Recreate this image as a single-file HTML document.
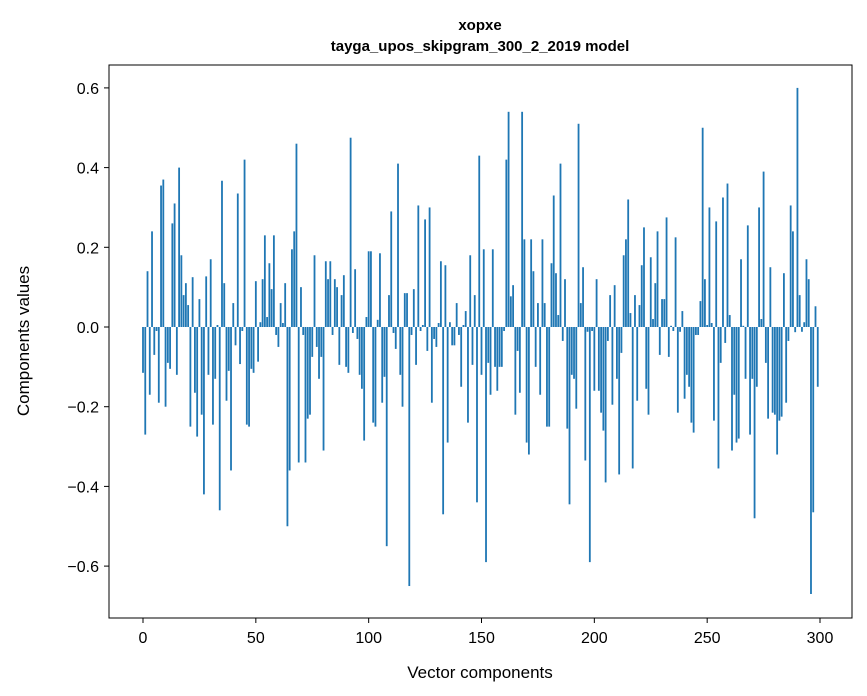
<!DOCTYPE html>
<html><head><meta charset="utf-8">
<style>
html,body{margin:0;padding:0;background:#fff;}
svg{display:block;font-family:"Liberation Sans","DejaVu Sans",sans-serif;}
</style></head>
<body>
<svg id="chart" width="867" height="696" viewBox="0 0 867 696">
  <rect x="0" y="0" width="867" height="696" fill="#fff"/>
  <text x="480" y="30" text-anchor="middle" font-size="15" font-weight="bold">xopxe</text>
  <text x="480" y="51" text-anchor="middle" font-size="15" font-weight="bold">tayga_upos_skipgram_300_2_2019 model</text>
  <g id="bars"></g>
  <g id="xticks"></g>
  <g id="yticks"></g>
  <rect x="109" y="65" width="743" height="553" fill="none" stroke="#000" stroke-width="1"/>
  <text x="480" y="678" text-anchor="middle" font-size="17">Vector components</text>
  <text x="0" y="0" transform="translate(29,341) rotate(-90)" text-anchor="middle" font-size="17">Components values</text>
</svg>
<script>
const values = [
-0.115,-0.27,0.14,-0.17,0.24,-0.07,-0.01,-0.19,0.355,0.37,
-0.2,-0.09,-0.105,0.26,0.31,-0.12,0.4,0.18,0.08,0.11,
0.055,-0.25,0.125,-0.165,-0.275,0.07,-0.22,-0.42,0.127,-0.12,
0.17,-0.245,-0.13,0.005,-0.46,0.367,0.11,-0.185,-0.11,-0.36,
0.06,-0.046,0.335,-0.093,-0.01,0.42,-0.245,-0.25,-0.105,-0.115,
0.115,-0.087,0.012,0.12,0.23,0.025,0.16,0.095,0.23,-0.02,
-0.05,0.06,0.01,0.11,-0.5,-0.36,0.195,0.24,0.46,-0.34,
0.1,-0.02,-0.34,-0.23,-0.22,-0.075,0.18,-0.05,-0.13,-0.075,
-0.31,0.165,0.12,0.165,-0.02,0.12,0.1,-0.095,0.08,0.13,
-0.1,-0.115,0.475,-0.015,0.145,-0.03,-0.12,-0.155,-0.285,0.025,
0.19,0.19,-0.24,-0.25,0.018,0.185,-0.19,-0.125,-0.55,0.08,
0.29,-0.015,-0.055,0.41,-0.12,-0.2,0.085,0.085,-0.65,-0.02,
0.095,-0.095,0.305,-0.01,0.005,0.27,-0.06,0.3,-0.19,-0.03,
-0.05,0.01,0.165,-0.47,0.155,-0.29,0.012,-0.046,-0.046,0.06,
-0.02,-0.15,0.005,0.04,-0.24,0.18,-0.095,0.08,-0.44,0.43,
-0.12,0.195,-0.59,-0.09,-0.17,0.195,-0.1,-0.16,-0.1,-0.1,
-0.01,0.42,0.54,0.077,0.105,-0.22,-0.06,-0.165,0.54,0.22,
-0.29,-0.32,0.22,0.14,-0.1,0.06,-0.17,0.22,0.06,-0.25,
-0.25,0.16,0.33,0.135,0.03,0.41,-0.035,0.12,-0.255,-0.445,
-0.12,-0.13,-0.205,0.51,0.06,0.15,-0.335,-0.012,-0.59,-0.01,
-0.16,0.12,-0.16,-0.215,-0.26,-0.39,-0.035,0.08,-0.195,0.105,
-0.13,-0.37,-0.065,0.18,0.22,0.32,0.035,-0.355,0.08,-0.185,
0.055,0.155,0.25,-0.155,-0.22,0.175,0.02,0.11,0.24,-0.07,
0.07,0.07,0.275,-0.075,0.003,-0.01,0.225,-0.215,-0.012,0.04,
-0.18,-0.12,-0.15,-0.24,-0.265,-0.02,-0.02,0.065,0.5,0.12,
0.005,0.3,0.01,-0.235,0.265,-0.355,-0.09,0.325,-0.04,0.36,
0.03,-0.31,-0.17,-0.29,-0.28,0.17,0.003,-0.13,0.255,-0.27,
-0.13,-0.48,-0.15,0.3,0.02,0.39,-0.09,-0.23,0.15,-0.215,
-0.22,-0.32,-0.235,-0.225,0.135,-0.19,-0.035,0.305,0.24,-0.013,
0.6,0.08,-0.012,0.012,0.17,0.12,-0.67,-0.465,0.052,-0.15
];
const xTickLabels = [0,50,100,150,200,250,300];
const yTickLabels = [-0.6,-0.4,-0.2,0.0,0.2,0.4,0.6];

const NS = "http://www.w3.org/2000/svg";
function xScale(i){ return 143 + i*2.2567; }
function yScale(v){ return 327 - v*398.5; }
const bars = document.getElementById('bars');
values.forEach((v,i)=>{
  const r = document.createElementNS(NS,'rect');
  const y0 = yScale(0), y1 = yScale(v);
  r.setAttribute('x', xScale(i-0.4));
  r.setAttribute('width', 0.8*2.2567);
  r.setAttribute('y', Math.min(y0,y1));
  r.setAttribute('height', Math.max(Math.abs(y1-y0),0.3));
  r.setAttribute('fill', '#1f77b4');
  
  
  bars.appendChild(r);
});
const xt = document.getElementById('xticks');
xTickLabels.forEach(t=>{
  const x = xScale(t);
  const l = document.createElementNS(NS,'line');
  l.setAttribute('x1',x);l.setAttribute('x2',x);l.setAttribute('y1',618);l.setAttribute('y2',623);
  l.setAttribute('stroke','#000');
  
  
  xt.appendChild(l);
  const tx = document.createElementNS(NS,'text');
  tx.setAttribute('x',x);tx.setAttribute('y',643);tx.setAttribute('text-anchor','middle');tx.setAttribute('font-size','16');
  tx.textContent = t;
  
  
  xt.appendChild(tx);
});
const yt = document.getElementById('yticks');
yTickLabels.forEach(t=>{
  const y = yScale(t);
  const l = document.createElementNS(NS,'line');
  l.setAttribute('x1',104);l.setAttribute('x2',109);l.setAttribute('y1',y);l.setAttribute('y2',y);
  l.setAttribute('stroke','#000');
  
  
  yt.appendChild(l);
  const tx = document.createElementNS(NS,'text');
  tx.setAttribute('x',99);tx.setAttribute('y',y+6);tx.setAttribute('text-anchor','end');tx.setAttribute('font-size','16');
  tx.textContent = (t<0?'\u2212':'') + Math.abs(t).toFixed(1);
  
  
  yt.appendChild(tx);
});
</script>
</body></html>
